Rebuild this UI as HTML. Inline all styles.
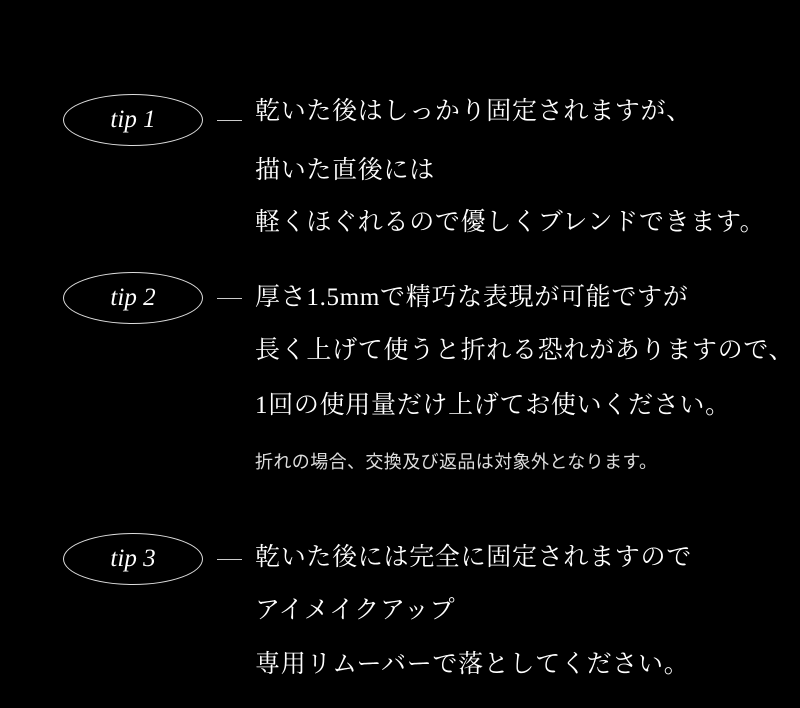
<!DOCTYPE html>
<html><head><meta charset="utf-8"><style>
body{margin:0;width:800px;height:708px;background:#000;position:relative;overflow:hidden;color:#fff}
.e{position:absolute;left:63px;width:140px;height:52px;border:1.3px solid #ddd;border-radius:50%;box-sizing:border-box}
.t{position:absolute;left:63px;width:140px;text-align:center;font-family:"Liberation Serif",serif;font-style:italic;font-size:25px;line-height:30px}
.d{position:absolute;left:217px;width:25px;height:1px;background:#ccc}
.l{position:absolute;left:255px;font-family:"Liberation Serif","Noto Serif CJK JP",serif;font-size:25px;line-height:30px;white-space:nowrap;letter-spacing:0.7px}
.s{position:absolute;left:255px;font-family:"Liberation Sans","Noto Sans CJK JP",sans-serif;font-size:18px;line-height:20px;white-space:nowrap;color:#ddd;letter-spacing:0.4px}
</style></head><body>
<div class="e" style="top:94px"></div><div class="t" style="top:105px">tip 1</div><div class="d" style="top:120px"></div>
<div class="l" style="top:97px">乾いた後はしっかり固定されますが、</div>
<div class="l" style="top:156px">描いた直後には</div>
<div class="l" style="top:208px">軽くほぐれるので優しくブレンドできます。</div>
<div class="e" style="top:272px"></div><div class="t" style="top:283px">tip 2</div><div class="d" style="top:298px"></div>
<div class="l" style="top:283px">厚さ1.5mmで精巧な表現が可能ですが</div>
<div class="l" style="top:336px">長く上げて使うと折れる恐れがありますので、</div>
<div class="l" style="top:391px">1回の使用量だけ上げてお使いください。</div>
<div class="s" style="top:452px">折れの場合、交換及び返品は対象外となります。</div>
<div class="e" style="top:533px"></div><div class="t" style="top:544px">tip 3</div><div class="d" style="top:559px"></div>
<div class="l" style="top:543px">乾いた後には完全に固定されますので</div>
<div class="l" style="top:596px">アイメイクアップ</div>
<div class="l" style="top:650px">専用リムーバーで落としてください。</div>
</body></html>
